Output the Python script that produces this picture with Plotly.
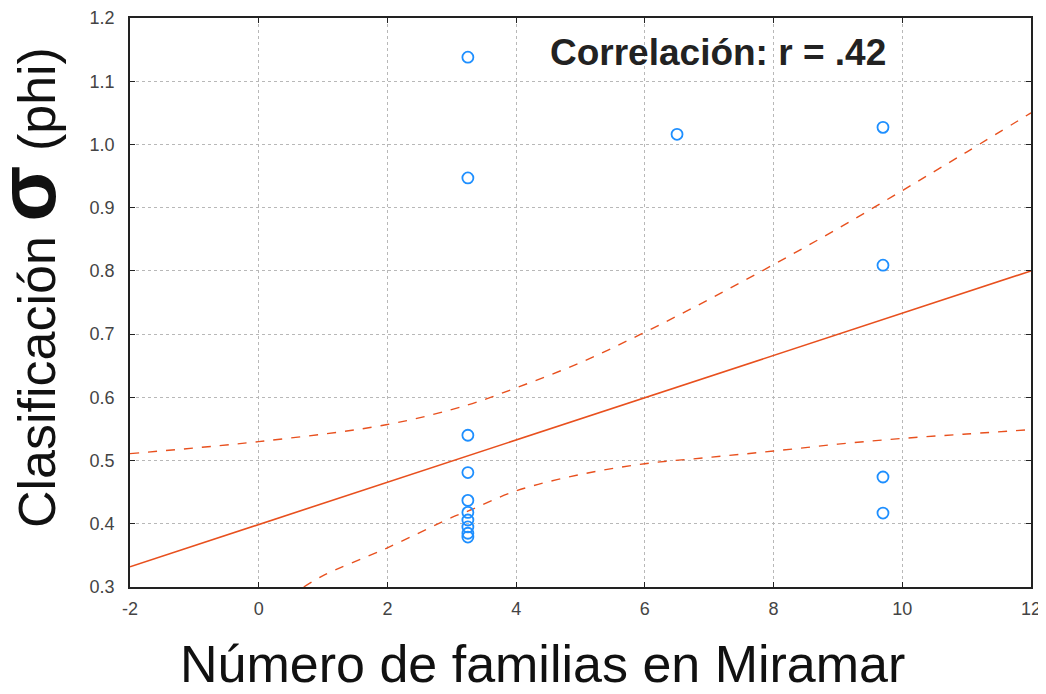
import plotly.graph_objects as go

# Observed points
pts_x = [3.25]*10 + [6.5] + [9.7]*4
pts_y = [1.138, 0.947, 0.540, 0.481, 0.437, 0.418, 0.406, 0.395, 0.385, 0.379,
         1.016,
         1.027, 0.809, 0.474, 0.417]

# Fitted regression line
fit_x = [-2, 12]
fit_y = [0.332, 0.800]

# Confidence bands
up_x = [-2, 0, 2, 3.25, 4, 5, 6, 7, 8, 9, 10, 11, 12]
up_y = [0.511, 0.530, 0.557, 0.588, 0.615, 0.655, 0.703, 0.755, 0.810, 0.867, 0.927, 0.988, 1.050]
lo_x = [0.7, 1, 2, 3, 3.25, 4, 5, 6, 7, 8, 9, 10, 11, 12]
lo_y = [0.300, 0.318, 0.362, 0.410, 0.420, 0.452, 0.478, 0.495, 0.505, 0.515, 0.526, 0.535, 0.542, 0.549]

x_ticks = [-2, 0, 2, 4, 6, 8, 10, 12]
y_ticks = [0.3, 0.4, 0.5, 0.6, 0.7, 0.8, 0.9, 1.0, 1.1, 1.2]

red = "#E8501E"
blue = "#1E8FFF"
FONT = "Liberation Sans, Arial"

# page offset (default body margin) compensation
OFF = 8
W, H = 1046, 694 - 2 * OFF
# plot-area pixel geometry in target-image coordinates
L, R, T, B = 130, 1031, 18, 587

def px(x):
    return (x - L) / (R - L)

def py(y):
    return (B - y) / (B - T)

fig = go.Figure()
fig.add_trace(go.Scatter(x=fit_x, y=fit_y, mode="lines",
                         line=dict(color=red, width=1.6), hoverinfo="skip"))
fig.add_trace(go.Scatter(x=up_x, y=up_y, mode="lines", line_shape="spline",
                         line=dict(color=red, width=1.4, dash="dash"), hoverinfo="skip"))
fig.add_trace(go.Scatter(x=lo_x, y=lo_y, mode="lines", line_shape="spline",
                         line=dict(color=red, width=1.4, dash="dash"), hoverinfo="skip"))
fig.add_trace(go.Scatter(x=pts_x, y=pts_y, mode="markers",
                         marker=dict(symbol="circle-open", size=11, color=blue,
                                     line=dict(width=1.8, color=blue))))

axis_common = dict(
    showgrid=True, gridcolor="#b8b8b8", griddash="dot", gridwidth=1,
    showline=True, linecolor="#222222", linewidth=1.5, mirror="ticks",
    ticks="inside", ticklen=5, tickcolor="#222222",
    zeroline=False, automargin=False, ticklabeloverflow="allow",
    tickfont=dict(family=FONT, size=18, color="#444444"),
)

fig.update_layout(
    width=W, height=H,
    margin=dict(l=L - OFF, r=(OFF + W) - R, t=T - OFF, b=(OFF + H) - B),
    paper_bgcolor="white", plot_bgcolor="white",
    showlegend=False,
    font=dict(family=FONT, color="#111111"),
    xaxis=dict(range=[-2, 12], tickvals=x_ticks, ticktext=[str(v) for v in x_ticks],
               ticklabelstandoff=5, **axis_common),
    yaxis=dict(range=[0.3, 1.2], tickvals=y_ticks, ticktext=[f"{v:.1f}" for v in y_ticks],
               ticklabelstandoff=10, **axis_common),
    annotations=[
        dict(x=px(718), y=py(52), xref="paper", yref="paper", showarrow=False,
             xanchor="center", yanchor="middle",
             text="<b>Correlación: r = .42</b>",
             font=dict(size=37, family=FONT, color="#222222")),
        dict(x=px(542), y=py(664), xref="paper", yref="paper", showarrow=False,
             xanchor="center", yanchor="middle",
             text="Número de familias en Miramar",
             font=dict(size=52, family=FONT, color="#111111")),
        dict(x=px(26), y=py(288), xref="paper", yref="paper", showarrow=False,
             xanchor="center", yanchor="middle", textangle=-90,
             text="Clasificación <b><span style='font-size:82px'>σ</span></b> (phi)",
             font=dict(size=52, family=FONT, color="#111111")),
    ],
)

fig.write_html("out.html")
